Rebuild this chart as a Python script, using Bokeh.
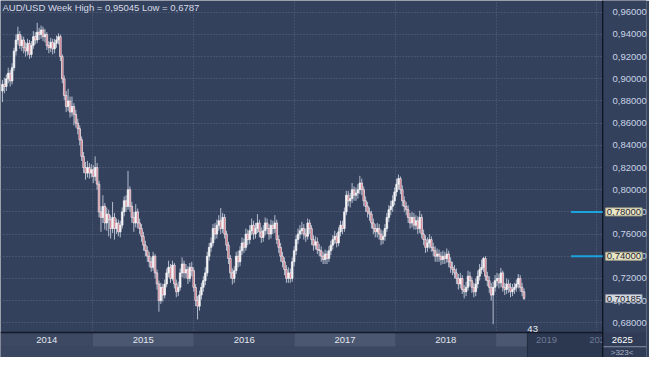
from datetime import datetime, timedelta
import pandas as pd
from bokeh.plotting import figure
from bokeh.models import (Range1d, FixedTicker, CustomJSTickFormatter, Label,
                          ColumnDataSource)
from bokeh.core.properties import value
from bokeh.embed import file_html
from bokeh.resources import INLINE

# ---------------- data (weekly AUD/USD) ----------------
first_open = 0.889
close = [0.895,0.893,0.900,0.905,0.898,0.910,0.925,0.935,0.940,0.930,
         0.935,0.928,0.925,0.932,0.922,0.930,0.938,0.935,0.942,0.940,
         0.944,0.938,0.940,0.930,0.928,0.933,0.927,0.932,0.935,0.938,
         0.920,0.900,0.885,0.875,0.880,0.870,0.875,0.868,0.860,0.855,
         0.845,0.830,0.820,0.815,0.820,0.815,0.818,0.812,0.820,0.805,
         0.780,0.775,0.785,0.770,0.778,0.773,0.765,0.775,0.765,0.770,
         0.762,0.768,0.780,0.790,0.785,0.800,0.785,0.775,0.770,0.780,
         0.770,0.765,0.758,0.750,0.745,0.740,0.735,0.730,0.740,0.725,
         0.715,0.700,0.712,0.705,0.715,0.725,0.730,0.720,0.732,0.715,
         0.708,0.712,0.725,0.733,0.725,0.728,0.720,0.730,0.727,0.712,
         0.700,0.695,0.705,0.712,0.718,0.725,0.740,0.748,0.752,0.765,
         0.760,0.768,0.772,0.765,0.775,0.760,0.750,0.738,0.725,0.720,
         0.727,0.740,0.735,0.745,0.752,0.748,0.760,0.755,0.763,0.768,
         0.760,0.765,0.770,0.762,0.757,0.763,0.770,0.765,0.760,0.768,
         0.765,0.770,0.755,0.748,0.740,0.735,0.728,0.720,0.725,0.720,
         0.735,0.745,0.755,0.760,0.763,0.765,0.760,0.758,0.770,0.765,
         0.755,0.750,0.753,0.746,0.745,0.740,0.737,0.742,0.738,0.745,
         0.750,0.755,0.758,0.752,0.762,0.768,0.765,0.780,0.795,0.790,
         0.792,0.800,0.795,0.797,0.800,0.806,0.800,0.790,0.785,0.780,
         0.778,0.770,0.765,0.762,0.765,0.760,0.755,0.758,0.765,0.775,
         0.782,0.785,0.790,0.798,0.805,0.810,0.800,0.790,0.785,0.782,
         0.775,0.770,0.775,0.768,0.772,0.765,0.775,0.760,0.755,0.748,
         0.752,0.755,0.748,0.745,0.740,0.742,0.740,0.737,0.740,0.738,
         0.742,0.735,0.730,0.728,0.725,0.720,0.715,0.720,0.710,0.708,
         0.712,0.722,0.718,0.712,0.708,0.715,0.722,0.728,0.730,0.738,
         0.722,0.718,0.712,0.705,0.712,0.718,0.720,0.716,0.725,0.712,
         0.710,0.715,0.712,0.708,0.710,0.712,0.715,0.720,0.712,0.708,
         0.702]
high = [0.899,0.901,0.904,0.910,0.908,0.914,0.928,0.940,0.947,0.943,
        0.939,0.938,0.933,0.936,0.935,0.934,0.943,0.942,0.9505,0.946,
        0.948,0.947,0.945,0.942,0.934,0.937,0.936,0.936,0.939,0.941,
        0.940,0.922,0.903,0.889,0.891,0.884,0.884,0.878,0.872,0.864,
        0.858,0.848,0.834,0.825,0.826,0.824,0.823,0.822,0.830,0.824,
        0.808,0.785,0.795,0.788,0.784,0.782,0.777,0.789,0.779,0.774,
        0.773,0.772,0.784,0.794,0.795,0.817,0.803,0.789,0.780,0.787,
        0.783,0.774,0.769,0.762,0.754,0.749,0.744,0.739,0.744,0.742,
        0.728,0.718,0.716,0.715,0.719,0.729,0.736,0.733,0.736,0.734,
        0.719,0.717,0.729,0.739,0.736,0.733,0.731,0.734,0.735,0.730,
        0.715,0.704,0.709,0.716,0.722,0.730,0.744,0.752,0.757,0.769,
        0.770,0.773,0.777,0.7835,0.779,0.778,0.763,0.753,0.741,0.729,
        0.731,0.744,0.745,0.749,0.757,0.756,0.765,0.764,0.768,0.774,
        0.772,0.770,0.778,0.773,0.766,0.768,0.775,0.774,0.769,0.773,
        0.772,0.777,0.773,0.759,0.752,0.744,0.739,0.732,0.730,0.729,
        0.739,0.749,0.759,0.765,0.768,0.771,0.769,0.765,0.774,0.773,
        0.768,0.759,0.758,0.757,0.751,0.749,0.744,0.746,0.745,0.749,
        0.754,0.759,0.763,0.761,0.766,0.772,0.772,0.784,0.799,0.799,
        0.797,0.806,0.803,0.802,0.805,0.8125,0.810,0.803,0.794,0.789,
        0.784,0.781,0.774,0.769,0.770,0.769,0.764,0.763,0.769,0.779,
        0.786,0.790,0.795,0.802,0.810,0.8136,0.812,0.804,0.794,0.789,
        0.786,0.779,0.780,0.779,0.777,0.776,0.781,0.778,0.764,0.759,
        0.757,0.760,0.758,0.752,0.749,0.747,0.746,0.744,0.745,0.744,
        0.747,0.745,0.739,0.735,0.732,0.729,0.724,0.725,0.723,0.714,
        0.717,0.727,0.726,0.721,0.716,0.720,0.727,0.733,0.737,0.7394,
        0.740,0.726,0.722,0.716,0.717,0.723,0.725,0.724,0.7295,0.727,
        0.716,0.720,0.719,0.716,0.715,0.716,0.719,0.724,0.723,0.716,
        0.711]
low = [0.879,0.887,0.889,0.896,0.893,0.895,0.907,0.921,0.931,0.927,
       0.925,0.923,0.920,0.921,0.918,0.919,0.927,0.931,0.932,0.935,
       0.936,0.934,0.933,0.926,0.923,0.924,0.922,0.923,0.928,0.931,
       0.916,0.896,0.881,0.870,0.871,0.865,0.866,0.858,0.856,0.850,
       0.840,0.826,0.815,0.809,0.811,0.810,0.811,0.806,0.808,0.800,
       0.775,0.762,0.770,0.764,0.763,0.758,0.756,0.761,0.755,0.760,
       0.758,0.757,0.765,0.776,0.780,0.782,0.780,0.770,0.762,0.766,
       0.765,0.760,0.753,0.745,0.740,0.735,0.730,0.726,0.727,0.720,
       0.710,0.690,0.697,0.699,0.702,0.712,0.721,0.716,0.718,0.711,
       0.703,0.704,0.709,0.721,0.720,0.720,0.715,0.717,0.722,0.708,
       0.695,0.683,0.691,0.701,0.708,0.714,0.722,0.736,0.744,0.749,
       0.755,0.756,0.763,0.760,0.761,0.756,0.745,0.733,0.720,0.7145,
       0.716,0.724,0.730,0.731,0.741,0.743,0.745,0.750,0.751,0.759,
       0.755,0.756,0.761,0.757,0.752,0.753,0.759,0.760,0.755,0.756,
       0.760,0.761,0.751,0.743,0.735,0.730,0.723,0.716,0.716,0.716,
       0.717,0.731,0.741,0.751,0.756,0.759,0.755,0.753,0.755,0.760,
       0.750,0.745,0.746,0.742,0.740,0.735,0.733,0.733,0.733,0.735,
       0.741,0.746,0.751,0.748,0.749,0.758,0.760,0.762,0.777,0.785,
       0.784,0.788,0.790,0.790,0.792,0.796,0.795,0.785,0.780,0.775,
       0.772,0.765,0.760,0.757,0.757,0.755,0.750,0.751,0.754,0.762,
       0.771,0.777,0.780,0.786,0.794,0.800,0.796,0.785,0.780,0.777,
       0.770,0.765,0.766,0.764,0.764,0.760,0.761,0.756,0.750,0.743,
       0.744,0.747,0.744,0.740,0.735,0.735,0.735,0.732,0.733,0.733,
       0.734,0.730,0.725,0.723,0.720,0.715,0.710,0.711,0.706,0.702,
       0.704,0.709,0.713,0.707,0.703,0.704,0.711,0.718,0.724,0.726,
       0.718,0.713,0.707,0.700,0.6787,0.708,0.713,0.711,0.712,0.708,
       0.705,0.706,0.707,0.703,0.704,0.706,0.708,0.711,0.708,0.704,
       0.7005]
first_week = "2014-02-07"
years = ["2014", "2015", "2016", "2017", "2018", "2019", "2020"]
price_ticks = [0.68, 0.70, 0.72, 0.74, 0.76, 0.78, 0.80, 0.82, 0.84, 0.86, 0.88, 0.90, 0.92, 0.94, 0.96]
alert_levels = [0.78, 0.74]
last_price = 0.70185
title_text = "AUD/USD Week High = 0,95045 Low = 0,6787"
bar_counter = "43"
corner_top = "2625"
corner_bottom = ">323<"

# ---------------- derived ----------------
dates = list(pd.date_range(first_week, periods=len(close), freq="7D"))
opens = [first_open] + close[:-1]
up = [c >= o for o, c in zip(opens, close)]
DAY = 86400000.0

src_up = ColumnDataSource(dict(
    x=[d for d, u in zip(dates, up) if u],
    top=[max(o, c) for o, c, u in zip(opens, close, up) if u],
    bottom=[min(o, c) for o, c, u in zip(opens, close, up) if u]))
src_dn = ColumnDataSource(dict(
    x=[d for d, u in zip(dates, up) if not u],
    top=[max(o, c) for o, c, u in zip(opens, close, up) if not u],
    bottom=[min(o, c) for o, c, u in zip(opens, close, up) if not u]))
src_w = ColumnDataSource(dict(x=dates, hi=high, lo=low))

W, H = 649, 357
AXIS_PX = 44                     # width of the price-scale strip
x_start = datetime(2014, 1, 31)
x_data_end = datetime(2020, 1, 22)   # where the price scale begins
span_days = (x_data_end - x_start).days
x_end = x_data_end + timedelta(days=span_days * AXIS_PX / (W - AXIS_PX))
Y_TOP = 0.9706
PB = 0.6712       # bottom of price area / top of time band
BAND_MID = 0.6584
Y_BOT = 0.6487
BG = "#34415d"

p = figure(width=W, height=H, output_backend="svg", toolbar_location=None,
           x_axis_type="datetime", x_axis_location=None, y_axis_location="right",
           x_range=Range1d(x_start, x_end), y_range=Range1d(Y_BOT, Y_TOP),
           min_border_left=0, min_border_top=0, min_border_bottom=0, min_border_right=0)
p.outline_line_color = None
p.background_fill_color = BG
p.border_fill_color = BG

p.ygrid.ticker = FixedTicker(ticks=price_ticks)
p.ygrid.grid_line_color = "#5a6682"
p.ygrid.grid_line_dash = "1 2"
# vertical dotted lines at year boundaries (yearly datetime ticks)
p.xgrid.grid_line_color = "#56627e"
p.xgrid.grid_line_dash = "1 2"

# price axis (labels drawn inside the strip at the right)
ax = p.yaxis[0]
ax.ticker = FixedTicker(ticks=price_ticks)
ax.formatter = CustomJSTickFormatter(code="return tick.toFixed(5).replace('.', ',');")
ax.major_label_text_font = "Liberation Sans"
ax.major_label_text_font_size = "9.5px"
ax.major_label_text_color = "#c9d3e6"
ax.major_tick_line_color = None
ax.minor_tick_line_color = None
ax.major_label_standoff = -(AXIS_PX - 4)
ax.axis_line_color = None

# time band
ystarts = [datetime(int(y), 1, 1) for y in years]
yends = [datetime(int(y) + 1, 1, 1) for y in years]
lefts = [max(s, x_start) for s in ystarts]
rights = [min(e, x_data_end) for e in yends]
future_start = dates[-1] + timedelta(days=12)
band_cols = ["#3d4963" if i % 2 == 0 else "#4b5771" for i in range(len(years))]
p.quad(left=lefts, right=rights, top=PB, bottom=BAND_MID, fill_color=band_cols, line_color=None)
p.quad(left=[x_start], right=[x_data_end], top=BAND_MID, bottom=Y_BOT, fill_color="#3b4761", line_color=None)
p.quad(left=[future_start], right=[x_data_end], top=PB, bottom=Y_BOT, fill_color="#2c3750",
       line_color="#222b3e", line_width=1)
mids = [l + (r - l) / 2 for l, r in zip(lefts, rights)]
lab_cols = ["#e2e6ee" if m < future_start else "#6f7b94" for m in mids]
p.text(x=mids, y=(PB + BAND_MID) / 2, text=years, text_color=lab_cols,
       text_font=value("Liberation Sans"), text_font_size="9.5px",
       text_align="center", text_baseline="middle")
p.segment(x0=[x_start], y0=[PB], x1=[x_data_end], y1=[PB], line_color="#121a28", line_width=1.5)

# candles
p.segment(x0="x", y0="lo", x1="x", y1="hi", source=src_w, line_color="#b4bccc", line_width=1)
bw = 5.8 * DAY
p.vbar(x="x", top="top", bottom="bottom", width=bw, source=src_up,
       fill_color="#f4f4f6", line_color="#f4f4f6", line_width=0.7)
p.vbar(x="x", top="top", bottom="bottom", width=bw, source=src_dn,
       fill_color="#d0687a", line_color="#f4f4f6", line_width=0.7)

# price-scale strip (covers grid there), its edge line and bottom corner
p.quad(left=[x_data_end], right=[x_end], top=Y_TOP, bottom=PB, fill_color=BG, line_color=None)
p.quad(left=[x_data_end], right=[x_end], top=PB, bottom=Y_BOT, fill_color="#303c56", line_color=None)
p.segment(x0=[x_data_end], y0=[BAND_MID], x1=[x_end], y1=[BAND_MID], line_color="#8a93a6", line_width=1)
p.segment(x0=[x_data_end], y0=[Y_BOT], x1=[x_data_end], y1=[Y_TOP], line_color="#0e1420", line_width=1.3)

# alert lines near the scale
x_alert = x_data_end - timedelta(days=115)
p.segment(x0=x_alert, y0=alert_levels, x1=x_data_end, y1=alert_levels,
          line_color="#1aa3dc", line_width=2)

for lv in alert_levels:
    p.add_layout(Label(x=x_data_end, y=lv, x_offset=3,
                       text=f"{lv:.5f}".replace(".", ","), text_font="Liberation Sans",
                       text_font_size="9.5px", text_color="#1e2430", text_baseline="middle",
                       background_fill_color="#e9e6c6", border_line_color="#a9a58a",
                       padding=1))
p.add_layout(Label(x=x_data_end, y=last_price, x_offset=3,
                   text=f"{last_price:.5f}".replace(".", ","), text_font="Liberation Sans",
                   text_font_size="9.5px", text_color="#1e2430", text_baseline="middle",
                   background_fill_color="#d4d9e0", border_line_color="#8c94a4", padding=1))

# texts
p.add_layout(Label(x=2, x_units="screen", y=Y_TOP, y_units="data", y_offset=-1,
                   text=title_text, text_font="Liberation Sans", text_font_size="9.5px",
                   text_color="#d6dbe6", text_baseline="top"))
p.add_layout(Label(x=future_start, y=PB, y_offset=1, text=bar_counter,
                   text_font="Liberation Sans", text_font_size="9.5px",
                   text_color="#e6e9f0", text_baseline="bottom"))
p.add_layout(Label(x=x_data_end, x_offset=9, y=(PB + BAND_MID) / 2,
                   text=corner_top, text_font="Liberation Sans", text_font_size="9.5px",
                   text_color="#ffffff", text_baseline="middle"))
p.add_layout(Label(x=x_data_end, x_offset=8, y=(BAND_MID + Y_BOT) / 2,
                   text=corner_bottom, text_font="Liberation Sans", text_font_size="8px",
                   text_color="#aeb6c6", text_baseline="middle"))

open("out.html", "w").write(file_html(p, INLINE))
